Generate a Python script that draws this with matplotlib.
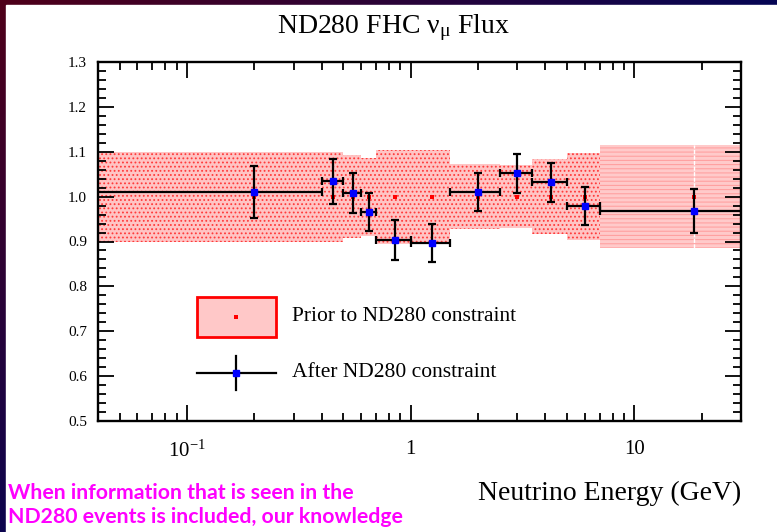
import numpy as np
import matplotlib
matplotlib.use("Agg")
import matplotlib.pyplot as plt
from matplotlib.patches import Rectangle
from matplotlib.ticker import FixedLocator, FixedFormatter, MultipleLocator, NullFormatter

# flux bins (GeV) and weights
bin_edges = [0.0, 0.4, 0.5, 0.6, 0.7, 1.0, 1.5, 2.5, 3.5, 5.0, 7.0, 30.0]
prior_val = [1.0, 1.0, 1.0, 1.0, 1.0, 1.0, 1.0, 1.0, 1.0, 1.0, 1.0]
prior_err = [0.100, 0.100, 0.092, 0.087, 0.105, 0.105, 0.073, 0.070, 0.083, 0.097, 0.115]
post_val = [1.010, 1.034, 1.008, 0.965, 0.903, 0.896, 1.010, 1.052, 1.032, 0.979, 0.968]
post_err = [0.058, 0.050, 0.045, 0.042, 0.044, 0.042, 0.042, 0.043, 0.043, 0.043, 0.048]

x_ticks = [0.1, 1, 10]
x_ticklabels = [r'$\mathregular{10^{-1}}$', '1', '10']
y_ticks = [0.5, 0.6, 0.7, 0.8, 0.9, 1.0, 1.1, 1.2, 1.3]

serif = 'Liberation Serif'
plt.rcParams['font.family'] = [serif, 'DejaVu Serif']
plt.rcParams['mathtext.fontset'] = 'stix'
plt.rcParams['hatch.linewidth'] = 0.8

W, H = 777, 532
fig = plt.figure(figsize=(W / 100, H / 100), dpi=100)

# slide background: maroon -> navy gradient with a white panel
bg = fig.add_axes([0, 0, 1, 1])
gx, gy = np.meshgrid(np.linspace(0, 1, 200), np.linspace(0, 1, 200))
t = np.clip(gx + gy * 0.9, 0, 1)[..., None]
c0 = np.array([0.31, 0.0, 0.10])
c1 = np.array([0.02, 0.02, 0.33])
bg.imshow(c0 * (1 - t) + c1 * t, extent=[0, 1, 0, 1], aspect='auto', origin='upper')
bg.add_patch(Rectangle((6 / W, 0), 1, 1 - 5 / H, color='white', transform=bg.transAxes))
bg.set_axis_off()

ax = fig.add_axes([98 / W, 1 - 421 / H, 643 / W, 359 / H])
ax.set_xscale('log', nonpositive='clip')

edges = np.array(bin_edges)
left = edges[:-1]
width = np.diff(edges)
centers = (edges[:-1] + edges[1:]) / 2
pv = np.array(prior_val)
pe = np.array(prior_err)

# prior band (ROOT pattern fill)
ax.bar(left[:-1], 2 * pe[:-1], width=width[:-1], bottom=pv[:-1] - pe[:-1], align='edge',
       facecolor='#ffc4c4', edgecolor='#ff3a3a', hatch='....', linewidth=0, zorder=1)
ax.bar(left[-1:], 2 * pe[-1:], width=width[-1:], bottom=pv[-1:] - pe[-1:], align='edge',
       facecolor='#ffcaca', edgecolor='#ffa0a0', hatch='----', linewidth=0, zorder=1)
ax.vlines(centers[-1], pv[-1] - pe[-1], pv[-1] + pe[-1], color='white', lw=1,
          linestyles=(0, (3, 1)), zorder=1.5)
ax.plot(centers, pv, 's', color='red', ms=2.2, mew=0, zorder=2)

# after ND280 constraint
ax.errorbar(centers, post_val, yerr=post_err, xerr=[centers - left, edges[1:] - centers],
            fmt='s', color='black', ecolor='black', elinewidth=1.6, capsize=3, capthick=1.6,
            mfc='blue', mec='blue', ms=4.5, zorder=3)

ax.set_xlim(0.04, 30)
ax.set_ylim(0.5, 1.3)
ax.xaxis.set_major_locator(FixedLocator(x_ticks))
ax.xaxis.set_major_formatter(FixedFormatter(x_ticklabels))
ax.xaxis.set_minor_formatter(NullFormatter())
ax.yaxis.set_major_locator(FixedLocator(y_ticks))
ax.yaxis.set_major_formatter(matplotlib.ticker.FormatStrFormatter('%.1f'))
ax.yaxis.set_minor_locator(MultipleLocator(0.02))
ax.tick_params(which='both', direction='in', top=True, right=True, width=1.3)
ax.tick_params(which='major', length=11.5)
ax.tick_params(which='minor', length=6)
ax.tick_params(axis='x', labelsize=15, pad=14)
ax.tick_params(axis='y', labelsize=11, pad=8)
for s in ax.spines.values():
    s.set_linewidth(1.7)

# legend drawn by hand (ROOT TLegend look)
ax.add_patch(Rectangle((0.154, 0.234), 0.123, 0.111, transform=ax.transAxes,
                       facecolor='#ffc8c8', edgecolor='red', lw=2, zorder=4))
ax.plot([0.215], [0.290], 's', color='red', ms=2.2, mew=0, transform=ax.transAxes, zorder=5)
ax.plot([0.154, 0.277], [0.134, 0.134], color='black', lw=1.6, transform=ax.transAxes, zorder=4)
ax.plot([0.215, 0.215], [0.086, 0.180], color='black', lw=1.6, transform=ax.transAxes, zorder=4)
ax.plot([0.215], [0.134], 's', color='blue', ms=4.5, transform=ax.transAxes, zorder=5)
ax.text(0.302, 0.290, 'Prior to ND280 constraint', transform=ax.transAxes,
        fontsize=15.5, va='center', ha='left')
ax.text(0.302, 0.134, 'After ND280 constraint', transform=ax.transAxes,
        fontsize=15.5, va='center', ha='left')

fig.text(393 / W, 1 - 28 / H, r'ND280 FHC $\mathregular{\nu_{\mu}}$ Flux', fontsize=20,
         ha='center', va='center')
fig.text(741 / W, 1 - 493 / H, 'Neutrino Energy (GeV)', fontsize=20, ha='right', va='center')

fig.text(8 / W, 1 - 493 / H, 'When information that is seen in the', color='#ff00ff',
         fontsize=15.3, fontweight='bold', family=['Lato', 'DejaVu Sans'], ha='left', va='center')
fig.text(8 / W, 1 - 517 / H, 'ND280 events is included, our knowledge', color='#ff00ff',
         fontsize=15.3, fontweight='bold', family=['Lato', 'DejaVu Sans'], ha='left', va='center')

fig.savefig('out.png', dpi=100)
